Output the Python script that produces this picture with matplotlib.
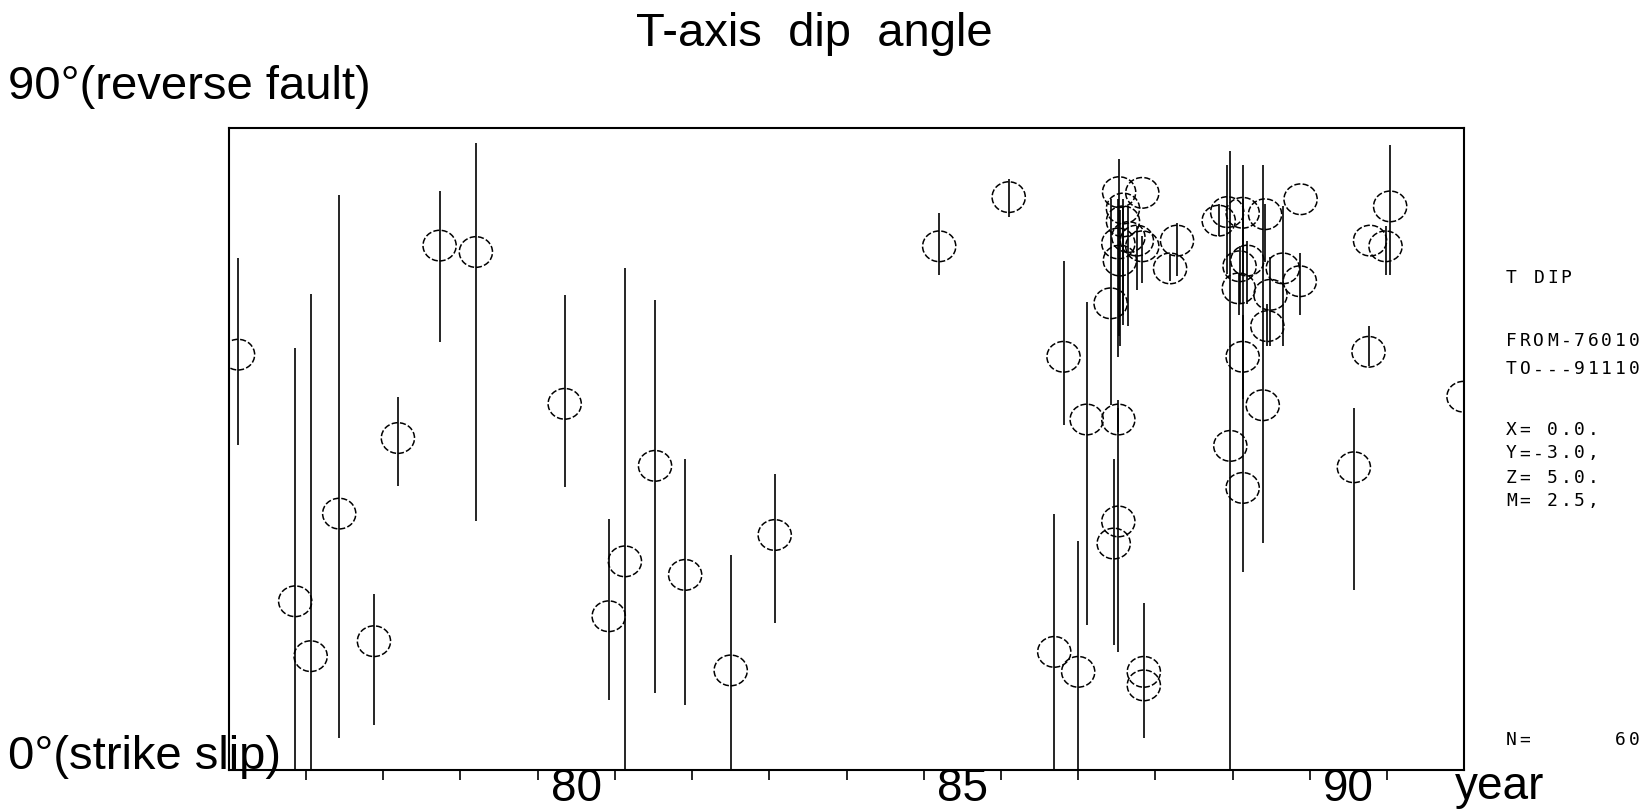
import matplotlib
matplotlib.use("Agg")
import matplotlib.pyplot as plt
from matplotlib.patches import Ellipse

plt.rcParams['font.family'] = ['Liberation Sans', 'DejaVu Sans']

# year (19xx), T-axis dip (deg) and the upper / lower end of each bar
year = [76.12, 76.86, 77.06, 77.43, 77.88, 78.19, 78.73, 79.20, 80.35, 80.92,
        81.13, 81.52, 81.91, 82.50, 83.07, 85.20, 86.10, 86.69, 86.81, 87.00,
        87.11, 87.52, 87.52, 87.46, 87.85, 87.85,
        87.53, 87.83, 87.58, 87.58, 87.52, 87.76, 87.83, 87.65, 87.54, 88.28,
        88.19, 87.42,
        88.82, 88.93, 89.13, 89.42, 89.88, 89.09, 89.19, 89.08, 89.49, 89.65,
        89.87, 89.45, 89.13, 89.39, 88.97, 89.13,
        91.04, 90.78, 90.98, 90.76, 91.99, 90.57]
dip = [58.2, 23.6, 15.9, 35.9, 18.0, 46.5, 73.5, 72.6, 51.3, 21.5,
       29.2, 42.6, 27.3, 13.9, 32.9, 73.4, 80.3, 16.5, 57.9, 13.7,
       49.1, 49.1, 34.8, 31.7, 13.7, 11.8,
       81.0, 80.9, 78.7, 76.9, 73.8, 74.2, 73.4, 74.7, 71.4, 74.2,
       70.3, 65.4,
       77.0, 78.2, 78.1, 77.9, 80.0, 70.6, 71.4, 67.5, 66.6, 70.3,
       68.5, 62.2, 57.9, 51.1, 45.4, 39.5,
       79.0, 74.2, 73.4, 58.6, 52.3, 42.4]
dip_hi = [71.7, 59.1, 66.7, 80.6, 24.6, 52.3, 81.2, 87.9, 66.6, 35.1,
          70.4, 65.8, 43.6, 30.1, 41.4, 78.1, 82.9, 35.8, 71.4, 32.0,
          65.6, 50.7, 51.9, 43.5, 23.3, 11.8,
          85.7, 80.9, 80.0, 79.0, 80.0, 76.3, 74.8, 79.0, 78.5, 76.7,
          72.2, 80.1,
          79.3, 84.8, 80.0, 79.3, 80.0, 73.4, 74.1, 69.7, 71.9, 79.0,
          72.5, 65.3, 63.8, 84.8, 86.8, 84.8,
          87.6, 74.2, 76.2, 62.2, 52.3, 50.7]
dip_lo = [45.5, 0.0, 0.0, 4.4, 6.3, 39.8, 60.0, 34.9, 39.6, 9.7,
          0.0, 10.8, 9.0, 0.0, 20.6, 69.4, 77.5, 0.0, 48.3, 0.0,
          20.3, 47.4, 16.5, 17.5, 4.4, 11.8,
          60.8, 80.9, 62.3, 63.8, 57.9, 67.3, 68.2, 62.2, 59.4, 69.2,
          68.6, 51.1,
          74.8, 69.5, 69.7, 71.2, 80.0, 65.3, 65.3, 63.8, 59.4, 59.4,
          63.8, 59.4, 52.0, 31.8, 0.0, 27.7,
          69.4, 74.2, 69.4, 56.6, 52.3, 25.2]

year_ticks = list(range(77, 92))
year_labels = ['80', '85', '90']
info_lines = ['T DIP', 'FROM-76010', 'TO---91110',
              'X= 0.0.', 'Y=-3.0,', 'Z= 5.0.', 'M= 2.5,', 'N=      60']

fig = plt.figure(figsize=(16.46, 8.10), dpi=100)
ax = fig.add_axes([0.139, 0.050, 0.7506, 0.792])

ax.vlines(year, dip_lo, dip_hi, color='black', linewidth=1.2)
for x, y in zip(year, dip):
    ax.add_patch(Ellipse((x, y), 0.43, 4.3, fill=False, edgecolor='black',
                         linewidth=1.1, linestyle=(0, (4, 1.5))))

ax.set_xlim(76, 92)
ax.set_ylim(0, 90)
ax.set_yticks([])
ax.set_xticks(year_ticks, labels=[''] * len(year_ticks))
ax.tick_params(axis='x', which='major', direction='out', length=7, width=1.2)
ax.set_xticks([80.5, 85.5, 90.5], labels=year_labels, minor=True)
ax.tick_params(axis='x', which='minor', length=0, pad=-2, labelsize=33)
for s in ax.spines.values():
    s.set_linewidth(1.5)

fig.text(0.495, 0.958, 'T-axis  dip  angle', fontsize=34, ha='center', va='center')
fig.text(0.005, 0.893, '90°(reverse fault)', fontsize=34, ha='left', va='center')
fig.text(0.005, 0.066, '0°(strike slip)', fontsize=34, ha='left', va='center')
fig.text(0.884, 0.028, 'year', fontsize=33, ha='left', va='center')

# plotter-style side block, one character per cell
info_y = [278, 341, 369.5, 430, 453.5, 477.6, 500.7, 740]
pitch = 13.6 / 1646
for line, py in zip(info_lines, info_y):
    for i, ch in enumerate(line):
        fig.text(0.915 + i * pitch, 1 - py / 810, ch, fontsize=13,
                 family='DejaVu Sans Mono', ha='left', va='center')

fig.savefig('out.png', dpi=100)
